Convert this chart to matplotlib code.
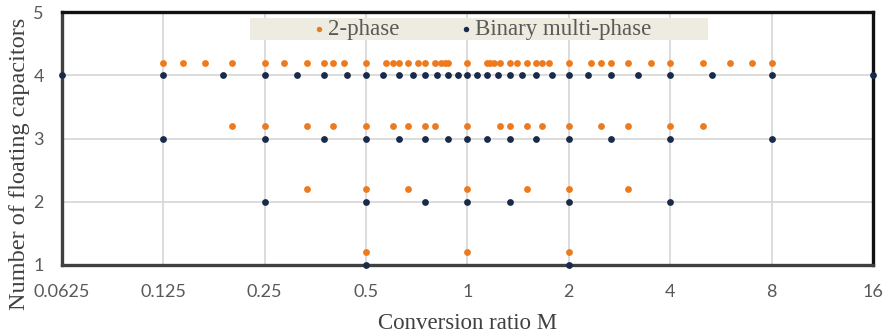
import matplotlib.pyplot as plt
from matplotlib.patches import Rectangle
from matplotlib.ticker import FixedLocator, FixedFormatter, NullLocator

# Data: conversion ratio M for each number of floating capacitors
two_phase = {
    1: [1/2, 1, 2],
    2: [1/3, 1/2, 2/3, 1, 3/2, 2, 3],
    3: [1/5, 1/4, 1/3, 2/5, 1/2, 3/5, 2/3, 3/4, 4/5, 1,
        5/4, 4/3, 3/2, 5/3, 2, 5/2, 3, 4, 5],
    4: [1/8, 1/7, 1/6, 1/5, 1/4, 2/7, 1/3, 3/8, 2/5, 3/7, 1/2, 4/7, 3/5,
        5/8, 2/3, 5/7, 3/4, 4/5, 5/6, 6/7, 7/8, 1,
        8/7, 7/6, 6/5, 5/4, 4/3, 7/5, 3/2, 8/5, 5/3, 7/4, 2, 7/3, 5/2,
        8/3, 3, 7/2, 4, 5, 6, 7, 8],
}
binary_multi = {
    1: [1/2, 2],
    2: [1/4, 1/2, 3/4, 1, 4/3, 2, 4],
    3: [1/8, 1/4, 3/8, 1/2, 5/8, 3/4, 7/8, 1,
        8/7, 4/3, 8/5, 2, 8/3, 4, 8],
    4: [1/16, 1/8, 3/16, 1/4, 5/16, 3/8, 7/16, 1/2, 9/16, 5/8, 11/16,
        3/4, 13/16, 7/8, 15/16, 1,
        16/15, 8/7, 16/13, 4/3, 16/11, 8/5, 16/9, 2, 16/7, 8/3, 16/5,
        4, 16/3, 8, 16],
}
x_ticks = [0.0625, 0.125, 0.25, 0.5, 1, 2, 4, 8, 16]
x_tick_labels = ["0.0625", "0.125", "0.25", "0.5", "1", "2", "4", "8", "16"]
y_ticks = [1, 2, 3, 4, 5]

ORANGE = "#EE7A1E"
NAVY = "#1A2B4A"
OFFSET = 0.2

plt.rcParams["font.family"] = ["Liberation Serif", "DejaVu Serif"]

fig = plt.figure(figsize=(8.89, 3.35), dpi=100)
ax = fig.add_axes([0.0697, 0.209, 0.9123, 0.755])

first = True
for n, vals in two_phase.items():
    ax.scatter(vals, [n + OFFSET] * len(vals), s=24, color=ORANGE,
               linewidths=0, zorder=3, label="2-phase" if first else None,
               clip_on=False)
    first = False
first = True
for n, vals in binary_multi.items():
    ax.scatter(vals, [n] * len(vals), s=24, color=NAVY,
               linewidths=0, zorder=3,
               label="Binary multi-phase" if first else None, clip_on=False)
    first = False

ax.set_xscale("log", base=2)
ax.set_xlim(0.0625, 16)
ax.set_ylim(1, 5)
ax.xaxis.set_major_locator(FixedLocator(x_ticks))
ax.xaxis.set_major_formatter(FixedFormatter(x_tick_labels))
ax.xaxis.set_minor_locator(NullLocator())
ax.set_yticks(y_ticks)

ax.grid(True, color="#D9D9D9", linewidth=1.3, zorder=0)
ax.set_axisbelow(True)
ax.tick_params(length=0, labelsize=13, colors="#595959")
ax.tick_params(axis="x", pad=14)
ax.tick_params(axis="y", pad=13)
for lab in ax.get_xticklabels() + ax.get_yticklabels():
    lab.set_family(["Lato", "DejaVu Sans"])
for side in ["top", "right"]:
    ax.spines[side].set_linewidth(2.4)
    ax.spines[side].set_color("#111111")
for side in ["left", "bottom"]:
    ax.spines[side].set_linewidth(2.4)
    ax.spines[side].set_color("#404040")

ax.set_xlabel("Conversion ratio M", fontsize=16.5, color="#404040",
              labelpad=9)
ax.set_ylabel("Number of floating capacitors", fontsize=17.5,
              color="#404040")
ax.yaxis.set_label_coords(-0.039, 0.40)

# legend background box
ax.add_patch(Rectangle((0.232, 0.889), 0.565, 0.087, transform=ax.transAxes,
                       facecolor="#EEEBE0", edgecolor="none", zorder=4))
leg = ax.legend(loc="center", bbox_to_anchor=(0.519, 0.930), ncol=2,
                fontsize=16.5, frameon=False, handletextpad=0.2,
                columnspacing=2.7, markerscale=0.8, handlelength=0.4,
                borderpad=0, borderaxespad=0)
leg.set_zorder(5)
for t in leg.get_texts():
    t.set_color("#595959")

fig.savefig("out.png", dpi=100)
